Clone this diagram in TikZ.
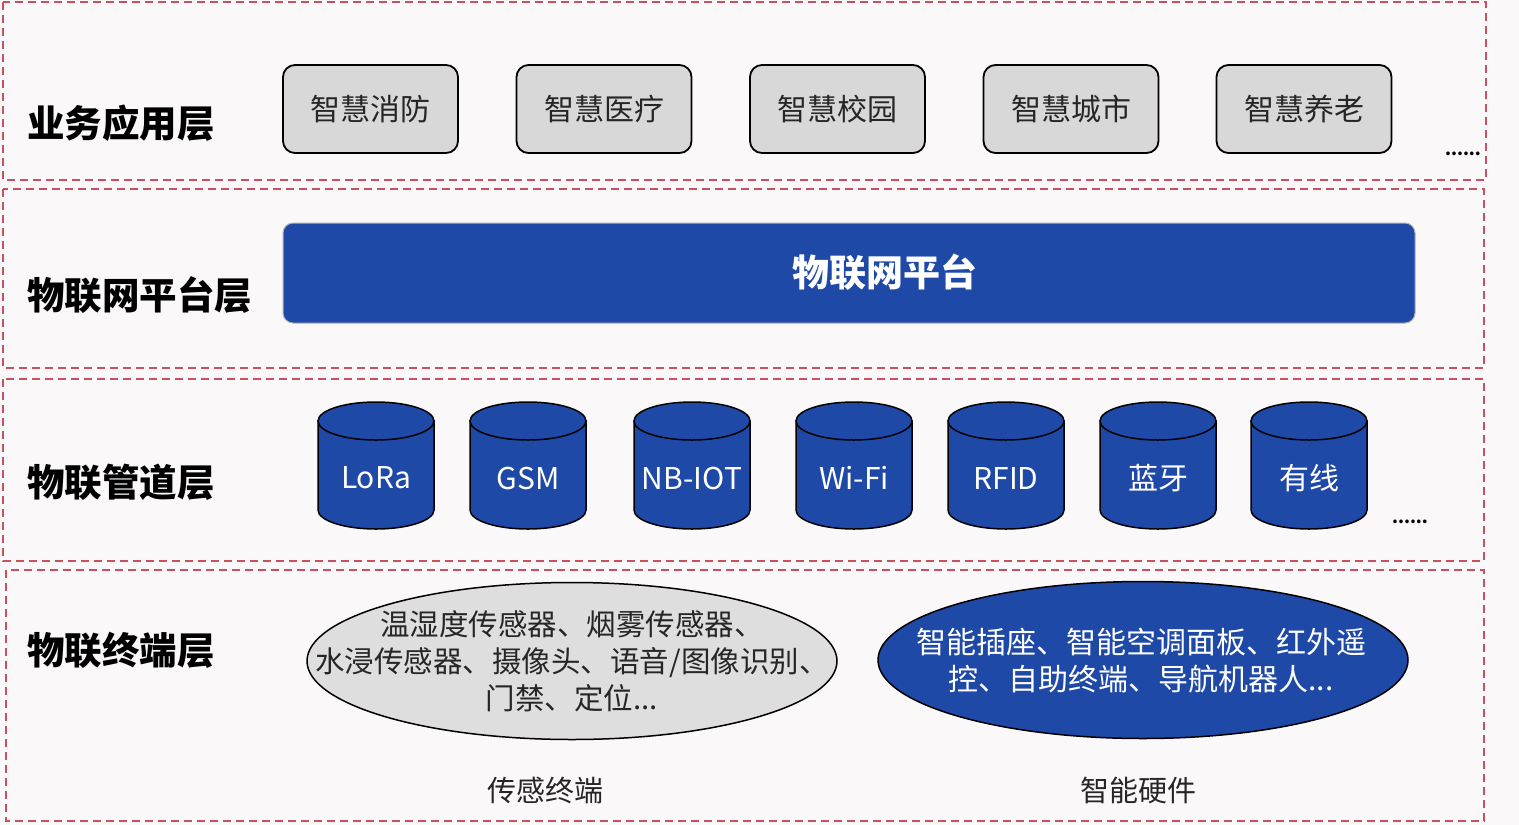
\documentclass[tikz,border=0pt]{standalone}
\usepackage{fontspec}
\setmainfont{Noto Sans CJK SC}
\newfontfamily\cjk{Noto Sans CJK SC}
\usetikzlibrary{shapes.geometric}
\definecolor{bgc}{RGB}{250,248,248}
\definecolor{bandred}{RGB}{200,80,95}
\definecolor{iotblue}{RGB}{31,73,167}
\definecolor{boxgray}{RGB}{216,216,216}
\definecolor{ellgray}{RGB}{222,222,222}
\tikzset{
  band/.style={draw=bandred, line width=1.3pt, dash pattern=on 8pt off 5pt},
  layer/.style={anchor=west, inner sep=0pt, font=\cjk\bfseries\fontsize{37.5}{40}\selectfont, text=black},
  appbox/.style={draw=black, line width=1.8pt, fill=boxgray, rounded corners=12pt, minimum width=175pt, minimum height=88pt, font=\cjk\fontsize{30}{34}\selectfont, text=black!85},
  platbar/.style={draw=gray!60, line width=1pt, fill=iotblue, rounded corners=10pt, minimum width=1132pt, minimum height=100pt},
  plattext/.style={font=\cjk\bfseries\fontsize{37}{40}\selectfont, text=white},
  cyl/.style={draw=black, line width=1.5pt, fill=iotblue},
  cyltext/.style={font=\cjk\fontsize{30}{34}\selectfont, text=white, inner sep=0pt},
  bigell/.style={ellipse, draw=black, line width=1.5pt, minimum width=530pt, minimum height=157pt},
  elltext/.style={align=center, inner sep=0pt},
  caption/.style={font=\cjk\fontsize{29}{32}\selectfont, text=black!85},
  dots/.style={font=\cjk\bfseries\fontsize{17}{17}\selectfont, text=black, inner sep=0pt}
}
\begin{document}
\begin{tikzpicture}[x=1pt,y=-1pt]
\useasboundingbox (0,0) rectangle (1519,825);
\fill[bgc] (0,0) rectangle (1519,825);
% bands
\draw[band] (3,2) rectangle (1486,180);
\draw[band] (3,189) rectangle (1484,368);
\draw[band] (3,379) rectangle (1484,561);
\draw[band] (6,570) rectangle (1484,821);
% layer labels
\node[layer] (l1) at (27,123) {业务应用层};
\node[layer] (l2) at (27,295) {物联网平台层};
\node[layer] (l3) at (27,482) {物联管道层};
\node[layer] (l4) at (27,650) {物联终端层};
% application boxes
\node[appbox] (a1) at (370.5,109) {智慧消防};
\node[appbox] (a2) at (604,109) {智慧医疗};
\node[appbox] (a3) at (837.5,109) {智慧校园};
\node[appbox] (a4) at (1071,109) {智慧城市};
\node[appbox] (a5) at (1304,109) {智慧养老};
\node[dots] (d1) at (1463,154) {......};
% platform
\node[platbar] (plat) at (849,273) {};
\node[plattext] (platt) at (885,272) {物联网平台};
% cylinders
\foreach \cx/\lab/\nm in {376/LoRa/c1, 528/GSM/c2, 692/NB-IOT/c3, 854/Wi-Fi/c4, 1006/RFID/c5, 1158/蓝牙/c6, 1309/有线/c7}{
  \draw[cyl] (\cx-58,421) -- (\cx-58,510) arc[start angle=180, end angle=0, x radius=58, y radius=19] -- (\cx+58,421) -- cycle;
  \draw[cyl] (\cx,421) ellipse[x radius=58, y radius=19];
  \node[cyltext] (\nm) at (\cx,478) {\lab};
}
\node[dots] (d2) at (1410,522) {......};
% terminal ellipses
\node[bigell, fill=ellgray] (sens) at (572,661) {};
\node[elltext, text=black!85, font=\cjk\fontsize{29.5}{37}\selectfont] (senst) at (sens.center) {温湿度传感器、烟雾传感器、\\水浸传感器、摄像头、语音/图像识别、\\门禁、定位...};
\node[bigell, fill=iotblue] (hard) at (1143,660) {};
\node[elltext, text=white, font=\cjk\fontsize{30}{37}\selectfont] (hardt) at (1141,661) {智能插座、智能空调面板、红外遥\\控、自助终端、导航机器人...};
\node[caption] (cap1) at (545,790) {传感终端};
\node[caption] (cap2) at (1138,790) {智能硬件};
\end{tikzpicture}
\end{document}
